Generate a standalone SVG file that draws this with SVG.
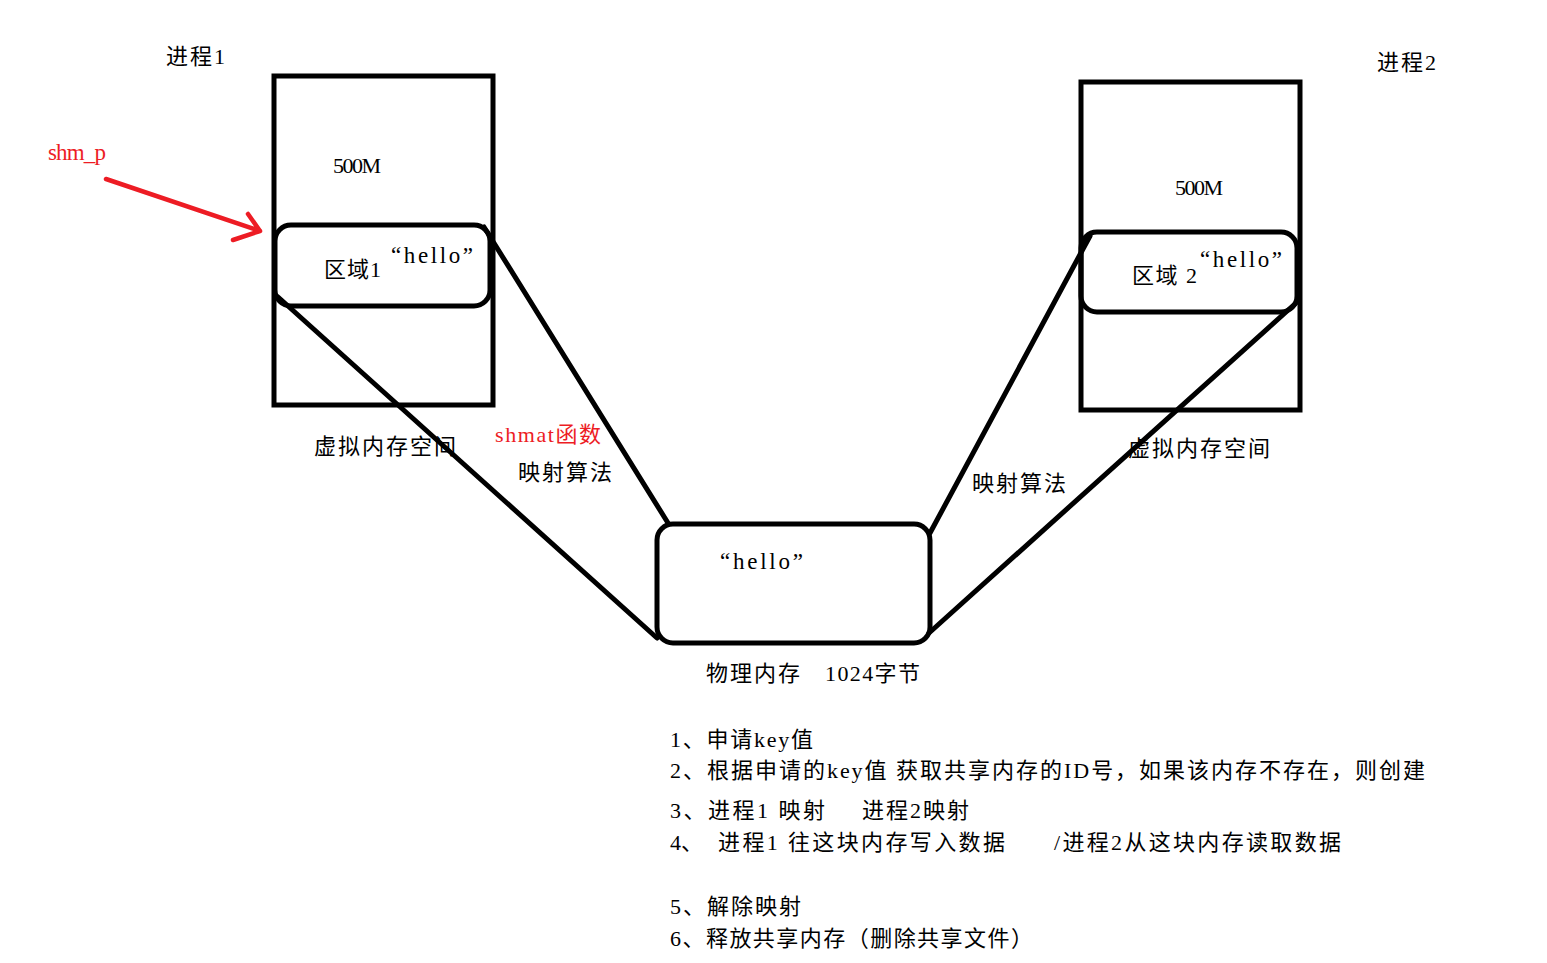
<svg xmlns="http://www.w3.org/2000/svg" width="1547" height="963" viewBox="0 0 1547 963">
<style>
text{font-family:"Liberation Serif","Noto Sans CJK SC",serif;font-size:22px;fill:#000}
.lat{font-size:23px}
.red{fill:#ed1c24}
.box{fill:none;stroke:#000;stroke-width:5}
.ln{fill:none;stroke:#000;stroke-width:5;stroke-linecap:round}
.arrow{fill:none;stroke:#ed1c24;stroke-width:4.5;stroke-linecap:round;stroke-linejoin:round}
</style>
<rect width="1547" height="963" fill="#fff"/>
<g id="connectors">
<line class="ln" x1="484" y1="227" x2="668" y2="523"/>
<line class="ln" x1="278" y1="297" x2="657" y2="638"/>
<line class="ln" x1="1090" y1="236" x2="930" y2="533"/>
<line class="ln" x1="1296" y1="303" x2="929" y2="633"/>
<path class="arrow" d="M106 179 L260 231 M248 214 L260 231 L233 240"/>
</g>
<g id="process1">
<text x="166" y="64" textLength="59">进程1</text>
<rect class="box" x="274" y="76" width="219" height="329"/>
<text x="333" y="173" textLength="48">500M</text>
</g>
<g id="region1">
<rect class="box" x="275" y="225" width="215" height="81" rx="16"/>
<text x="324" y="277" textLength="57">区域1</text>
<text class="lat" x="391" y="263" textLength="82">“hello”</text>
</g>
<g id="shm_p"><text class="red lat" x="48" y="160" textLength="58">shm_p</text></g>
<g id="process2">
<text x="1377" y="70" textLength="59">进程2</text>
<rect class="box" x="1081" y="82" width="219" height="328"/>
<text x="1175" y="195" textLength="48">500M</text>
</g>
<g id="region2">
<rect class="box" x="1081" y="232" width="216" height="80" rx="16"/>
<text x="1132" y="283" textLength="65">区域 2</text>
<text class="lat" x="1200" y="267" textLength="82">“hello”</text>
</g>
<g id="physical">
<rect class="box" x="657" y="524" width="273" height="119" rx="16"/>
<text class="lat" x="720" y="569" textLength="83">“hello”</text>
<text x="706" y="681" textLength="94">物理内存</text>
<text x="825" y="681" textLength="95">1024字节</text>
</g>
<g id="labels">
<text x="314" y="454" textLength="142">虚拟内存空间</text>
<text x="1128" y="456" textLength="142">虚拟内存空间</text>
<text class="red" x="495" y="442" textLength="106">shmat函数</text>
<text x="518" y="480" textLength="94">映射算法</text>
<text x="972" y="491" textLength="94">映射算法</text>
</g>
<g id="steps">
<text x="670" y="747" textLength="143">1、申请key值</text>
<text x="670" y="778" textLength="755">2、根据申请的key值 获取共享内存的ID号，如果该内存不存在，则创建</text>
<text x="670" y="818" textLength="155">3、进程1 映射</text>
<text x="862" y="818" textLength="107">进程2映射</text>
<text x="670" y="850">4、</text>
<text x="718" y="850" textLength="287">进程1 往这块内存写入数据</text>
<text x="1054" y="850" textLength="287">/进程2从这块内存读取数据</text>
<text x="670" y="914" textLength="131">5、解除映射</text>
<text x="670" y="946" textLength="363">6、释放共享内存（删除共享文件）</text>
</g>
</svg>
